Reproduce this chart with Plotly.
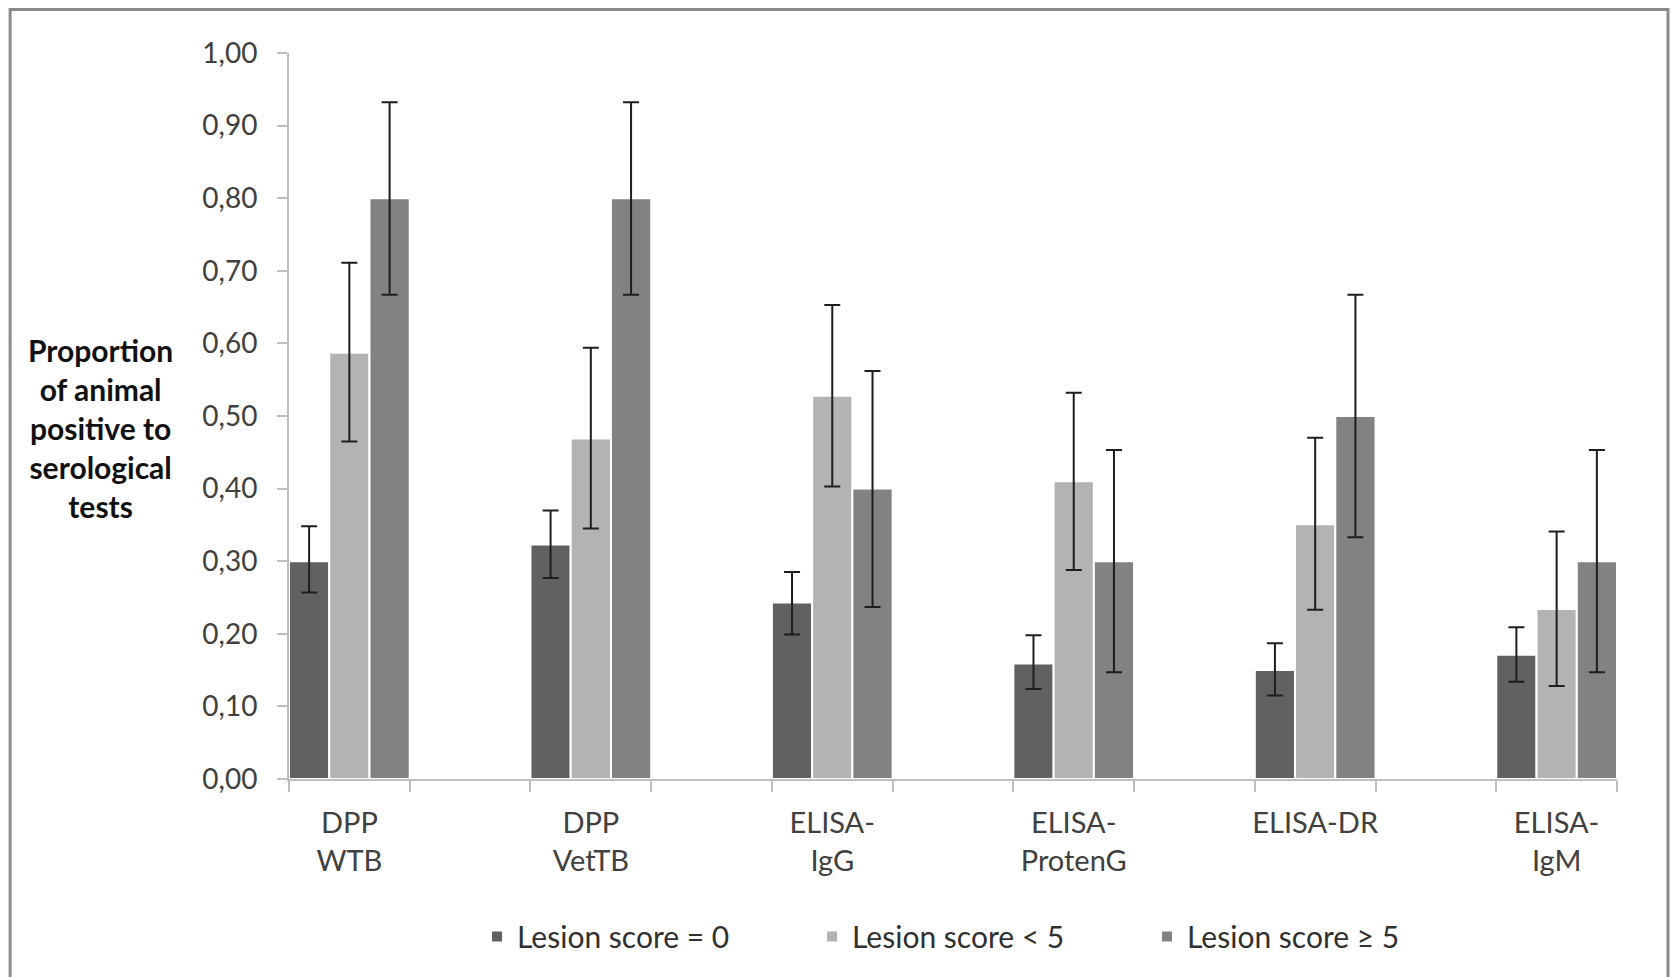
import plotly.graph_objects as go

categories = ["DPP<br>WTB", "DPP<br>VetTB", "ELISA-<br>IgG", "ELISA-<br>ProtenG", "ELISA-DR", "ELISA-<br>IgM"]
series_names = ["Lesion score = 0", "Lesion score < 5", "Lesion score \u2265 5"]

score0 = [0.30, 0.323, 0.243, 0.159, 0.150, 0.171]
score0_hi = [0.348, 0.370, 0.285, 0.198, 0.187, 0.209]
score0_lo = [0.257, 0.277, 0.199, 0.124, 0.115, 0.134]

scorelt5 = [0.587, 0.469, 0.528, 0.410, 0.351, 0.234]
scorelt5_hi = [0.711, 0.594, 0.653, 0.532, 0.470, 0.341]
scorelt5_lo = [0.465, 0.345, 0.403, 0.288, 0.233, 0.128]

scorege5 = [0.80, 0.80, 0.40, 0.30, 0.50, 0.30]
scorege5_hi = [0.932, 0.932, 0.562, 0.453, 0.667, 0.453]
scorege5_lo = [0.667, 0.667, 0.237, 0.147, 0.333, 0.147]

y_ticks = [0.0, 0.1, 0.2, 0.3, 0.4, 0.5, 0.6, 0.7, 0.8, 0.9, 1.0]

colors = ["#616161", "#b3b3b3", "#828282"]
series = [(score0, score0_hi, score0_lo), (scorelt5, scorelt5_hi, scorelt5_lo), (scorege5, scorege5_hi, scorege5_lo)]

FONT = "Lato"
n = len(categories)
xpos = [2 * i for i in range(n)]

fig = go.Figure()
k = len(series)
for j, (vals, hi, lo) in enumerate(series):
    fig.add_trace(go.Bar(
        x=xpos, y=vals, name=series_names[j],
        width=1.0 / k, offset=-0.5 + j / k,
        marker=dict(color=colors[j], line=dict(color="white", width=2)),
        error_y=dict(type="data", symmetric=False,
                     array=[h - v for h, v in zip(hi, vals)],
                     arrayminus=[v - l for v, l in zip(vals, lo)],
                     color="#1e1e1e", thickness=2, width=8),
    ))

fig.update_layout(
    width=1679, height=977,
    margin=dict(l=281, r=70, t=45, b=206),
    paper_bgcolor="white", plot_bgcolor="white",
    barmode="overlay",
    separators=", ",
    font=dict(family=FONT, color="#404040", size=28),
    showlegend=True,
    legend=dict(orientation="h", x=0.520, xanchor="center", y=-0.217, yanchor="middle",
                font=dict(family=FONT, size=30, color="#303030"),
                entrywidth=290, entrywidthmode="pixels", traceorder="normal"),
    shapes=[dict(type="rect", xref="paper", yref="paper",
                 x0=-0.210, x1=1.0384, y0=-0.29, y1=1.0599,
                 line=dict(color="#8a8a8a", width=3), fillcolor="rgba(0,0,0,0)", layer="below")],
    annotations=[dict(text="Proportion<br>of animal<br>positive to<br>serological<br>tests",
                      xref="paper", yref="paper", x=-0.1423, y=0.484,
                      xanchor="center", yanchor="middle", showarrow=False, align="center",
                      font=dict(family=FONT, size=30, color="#111111", weight="bold"))],
)

fig.update_xaxes(
    range=[-0.5, 2 * n - 1.5],
    tickmode="array", tickvals=xpos, ticktext=categories,
    ticks="", showline=True, linecolor="#bfbfbf", linewidth=2,
    showgrid=False, zeroline=False,
    tickfont=dict(family=FONT, size=29, color="#404040"),
    ticklabelstandoff=17,
    minor=dict(tickmode="array", tickvals=[i - 0.5 for i in range(2 * n)],
               ticks="outside", ticklen=11, tickcolor="#bfbfbf", tickwidth=2, showgrid=False),
)
fig.update_yaxes(
    range=[0, 1], tickmode="array", tickvals=y_ticks, tickformat=".2f",
    ticks="outside", ticklen=10, tickcolor="#bfbfbf", tickwidth=2,
    showline=True, linecolor="#bfbfbf", linewidth=2,
    showgrid=False, zeroline=False,
    tickfont=dict(family=FONT, size=28, color="#404040"),
    ticklabelstandoff=14,
)

fig.write_html("out.html")
